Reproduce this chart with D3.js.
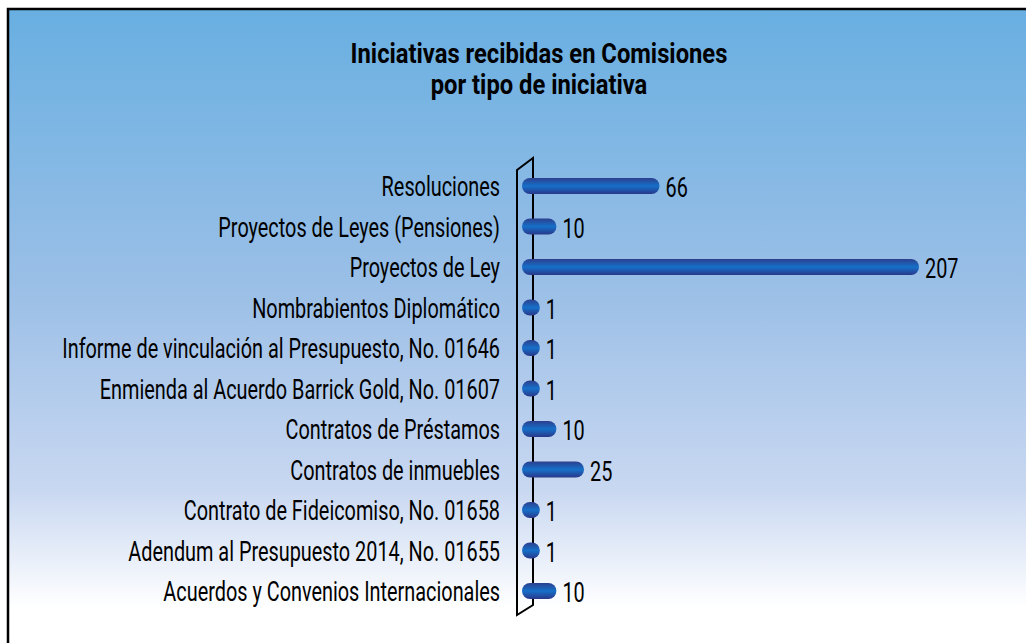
<!DOCTYPE html>
<html>
<head>
<meta charset="utf-8">
<script src="https://cdn.jsdelivr.net/npm/d3@7"></script>
<style>
	body { margin: 0; background: #fff; }
	text { font-family: Roboto, "Open Sans", sans-serif; }
</style>
</head>
<body>
<div id="chart"></div>
<script>
// chart data
var categories = [
	"Resoluciones",
	"Proyectos de Leyes (Pensiones)",
	"Proyectos de Ley",
	"Nombrabientos Diplomático",
	"Informe de vinculación al Presupuesto, No. 01646",
	"Enmienda al Acuerdo Barrick Gold, No. 01607",
	"Contratos de Préstamos",
	"Contratos de inmuebles",
	"Contrato de Fideicomiso, No. 01658",
	"Adendum al Presupuesto 2014, No. 01655",
	"Acuerdos y Convenios Internacionales"
];
var values = [66, 10, 207, 1, 1, 1, 10, 25, 1, 1, 10];
var titleLines = ["Iniciativas recibidas en Comisiones", "por tipo de iniciativa"];

var width = 1026,
	height = 643,
	barH = 16,
	r = barH / 2;

var svg = d3.select("#chart")
	.append("svg")
	.attr("width", width)
	.attr("height", height);

var defs = svg.append("defs");

// background gradient
var bg = defs.append("linearGradient")
	.attr("id", "bg")
	.attr("x1", "0%").attr("y1", "0%")
	.attr("x2", "0%").attr("y2", "100%");
bg.append("stop").attr("offset", "0%").attr("stop-color", "#68afe1");
bg.append("stop").attr("offset", "45%").attr("stop-color", "#9dc0e7");
bg.append("stop").attr("offset", "75%").attr("stop-color", "#c9d8f1");
bg.append("stop").attr("offset", "93%").attr("stop-color", "#ffffff");
bg.append("stop").attr("offset", "100%").attr("stop-color", "#ffffff");

// bar gradient
var bar = defs.append("linearGradient")
	.attr("id", "bar")
	.attr("x1", "0%").attr("y1", "0%")
	.attr("x2", "0%").attr("y2", "100%");
bar.append("stop").attr("offset", "0%").attr("stop-color", "#2c3f8e");
bar.append("stop").attr("offset", "50%").attr("stop-color", "#1670c9");
bar.append("stop").attr("offset", "100%").attr("stop-color", "#29388a");

// frame
svg.append("rect")
	.attr("x", 8)
	.attr("y", 9)
	.attr("width", width)
	.attr("height", height)
	.attr("fill", "url(#bg)")
	.attr("stroke", "#000")
	.attr("stroke-width", 2.5);

// scales
var y = d3.scaleBand()
	.domain(categories)
	.range([165.75, 611.25]);

var x = d3.scaleLinear()
	.domain([0, 207])
	.range([530, 911]);

// title
var title = svg.append("g");
titleLines.forEach(function(t, i) {
	title.append("text")
		.attr("text-anchor", "middle")
		.attr("font-weight", "bold")
		.attr("font-size", 28)
		.text(t);
});
var tw = title.select("text").node().getComputedTextLength();
var tk = 377 / tw;
title.selectAll("text").attr("transform", function(d, i) {
	return "translate(539," + (63 + i * 31) + ") scale(" + tk + ",1)";
});

// 3d-ish axis
var axis = svg.append("g")
	.attr("fill", "none")
	.attr("stroke", "#000")
	.attr("stroke-width", 2);
axis.append("path").attr("d", "M517,170 L533,158 L533,605 L517,615 Z");

// category labels
var labels = svg.append("g").selectAll("text")
	.data(categories)
	.enter().append("text")
	.attr("text-anchor", "end")
	.attr("font-size", 27)
	.attr("fill", "#000")
	.text(function(d) { return d; });

var lw = d3.max(labels.nodes(), function(n) { return n.getComputedTextLength(); });
var k = 438 / lw;
labels.attr("transform", function(d) {
	return "translate(500," + (y(d) + y.bandwidth() / 2 + 10) + ") scale(" + k + ",1)";
});

// bars
svg.append("g").selectAll("rect")
	.data(values)
	.enter().append("rect")
	.attr("x", x(0) - r)
	.attr("y", function(d, i) { return y(categories[i]) + y.bandwidth() / 2 - r; })
	.attr("width", function(d) { return Math.max(x(d) - x(0) + 2 * r, 2 * r); })
	.attr("height", barH)
	.attr("rx", r)
	.attr("ry", r)
	.attr("fill", "url(#bar)");

// value labels
svg.append("g").selectAll("text")
	.data(values)
	.enter().append("text")
	.attr("font-size", 27)
	.attr("fill", "#000")
	.attr("transform", function(d, i) {
		return "translate(" + (x(d) + r + 6) + "," + (y(categories[i]) + y.bandwidth() / 2 + 11) + ") scale(" + k + ",1)";
	})
	.text(function(d) { return d; });
</script>
</body>
</html>
